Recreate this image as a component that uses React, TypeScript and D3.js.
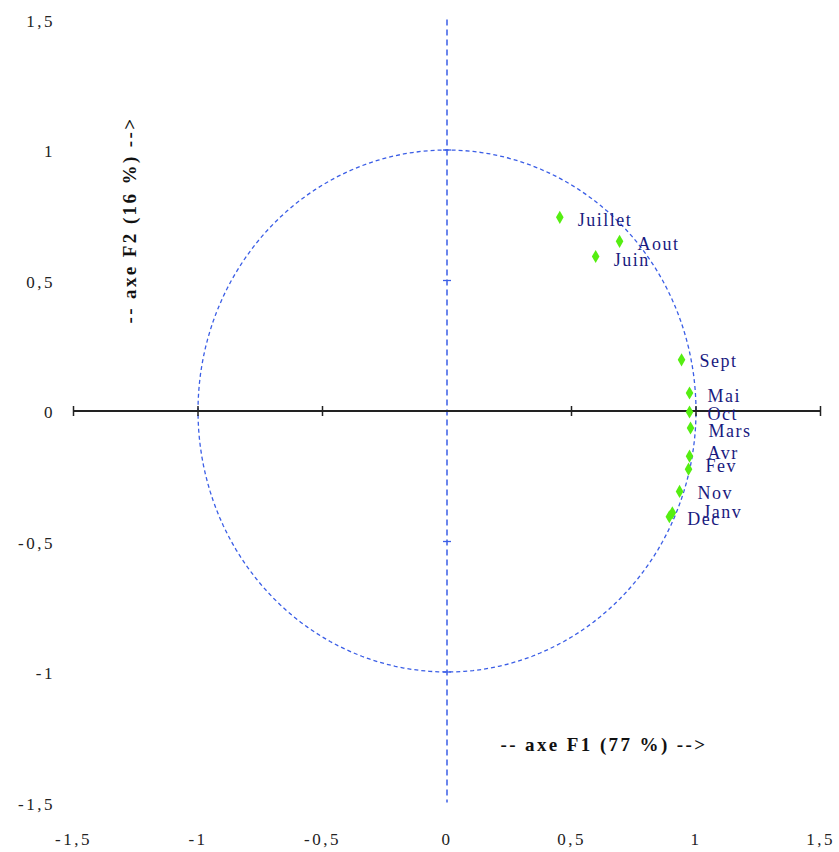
import React from "react";
import * as d3 from "d3";

const months = ["Juillet", "Aout", "Juin", "Sept", "Mai", "Oct", "Mars", "Avr", "Fev", "Nov", "Janv", "Dec"];
const f1 = [0.453, 0.693, 0.597, 0.942, 0.974, 0.974, 0.978, 0.974, 0.97, 0.934, 0.905, 0.893];
const f2 = [0.742, 0.65, 0.592, 0.196, 0.069, -0.004, -0.065, -0.173, -0.223, -0.308, -0.39, -0.405];
const labelDx = [18, 18, 18, 18, 18, 18, 18, 18, 17, 18, 31, 18];
const labelDy = [4, 4, 5, 2, 4, 3, 4, -2, -2, 3, 0, 3];
const ticks = [-1.5, -1, -0.5, 0, 0.5, 1, 1.5];
const tickLabels = ["-1,5", "-1", "-0,5", "0", "0,5", "1", "1,5"];

const W = 839;
const H = 852;

export default function App() {
  const x = d3.scaleLinear().domain([-1.5, 1.5]).range([73.5, 820.5]);
  const y = d3.scaleLinear().domain([-1.5, 1.5]).range([802.5, 19.5]);
  const blue = "#3b5ee6";
  const font = "'Liberation Serif', 'Times New Roman', serif";

  const circle = d3.range(0, 361, 2).map((a) => [Math.cos((a * Math.PI) / 180), Math.sin((a * Math.PI) / 180)] as [number, number]);
  const circlePath = d3.line<[number, number]>().x((d) => x(d[0])).y((d) => y(d[1]))(circle) || "";

  const diamond = d3.symbol().type(d3.symbolDiamond).size(50)() || "";

  return (
    <svg width={W} height={H} style={{ position: "absolute", left: 0, top: 0 }}>
      <rect width={W} height={H} fill="#ffffff" />
      {/* circle */}
      <path d={circlePath} fill="none" stroke={blue} strokeWidth={1.3} strokeDasharray="4,3" />
      {/* vertical axis */}
      <line x1={x(0)} x2={x(0)} y1={y(1.5)} y2={y(-1.5)} stroke={blue} strokeWidth={1.5} strokeDasharray="6,4" />
      {ticks.filter((t) => t !== 0 && Math.abs(t) !== 1.5).map((t) => (
        <line key={"vt" + t} x1={x(0) - 4} x2={x(0) + 4} y1={y(t)} y2={y(t)} stroke={blue} strokeWidth={1.3} />
      ))}
      {/* horizontal axis */}
      <line x1={x(-1.5)} x2={x(1.5)} y1={y(0)} y2={y(0)} stroke="#222" strokeWidth={2} />
      {ticks.filter((t) => t !== 0).map((t) => (
        <line key={"ht" + t} x1={x(t)} x2={x(t)} y1={y(0) - 5} y2={y(0) + 5} stroke="#222" strokeWidth={1.5} />
      ))}
      {/* y tick labels */}
      {ticks.map((t, i) => (
        <text key={"yl" + t} x={55} y={y(t) + 7} textAnchor="end" fontFamily={font} fontSize={17} letterSpacing={2.5} fill="#222">
          {tickLabels[i]}
        </text>
      ))}
      {/* x tick labels */}
      {ticks.map((t, i) => (
        <text key={"xl" + t} x={x(t)} y={845} textAnchor="middle" fontFamily={font} fontSize={17} letterSpacing={2.5} fill="#222">
          {tickLabels[i]}
        </text>
      ))}
      {/* points */}
      {months.map((m, i) => (
        <path key={m} d={diamond} transform={`translate(${x(f1[i])},${y(f2[i])})`} fill="#55ee11" />
      ))}
      {months.map((m, i) => (
        <text key={"t" + m} x={x(f1[i]) + labelDx[i]} y={y(f2[i]) + labelDy[i] + 5} fontFamily={font} fontSize={18} letterSpacing={1.5} fill="#1a1a80">
          {m}
        </text>
      ))}
      {/* axis titles */}
      <text x={604} y={751} textAnchor="middle" fontFamily={font} fontSize={19} letterSpacing={2.4} fontWeight="bold" fill="#111">
        -- axe F1 (77 %) --&gt;
      </text>
      <text transform="translate(136,220) rotate(-90)" textAnchor="middle" fontFamily={font} fontSize={19} letterSpacing={2.4} fontWeight="bold" fill="#111">
        -- axe F2 (16 %) --&gt;
      </text>
    </svg>
  );
}
